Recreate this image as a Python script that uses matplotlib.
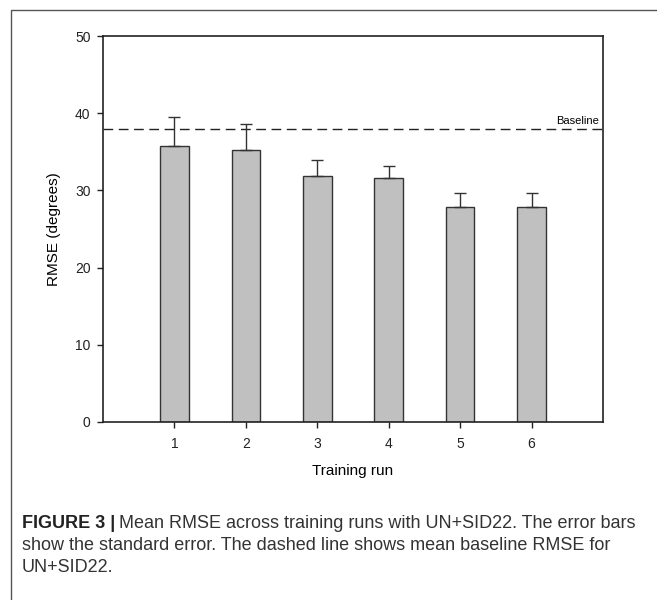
import matplotlib.pyplot as plt
from matplotlib.patches import Rectangle

runs = [1, 2, 3, 4, 5, 6]
rmse = [35.8, 35.2, 31.8, 31.6, 27.8, 27.8]
se = [3.7, 3.4, 2.1, 1.6, 1.9, 1.9]
baseline = 37.9

plt.rcParams['font.family'] = ['Liberation Sans', 'DejaVu Sans']

fig = plt.figure(figsize=(6.57, 6.0), dpi=100)

# frame around the whole figure
fig.patches.append(Rectangle((11 / 657, -0.1), 1.2, 1 - 10 / 600 + 0.1, transform=fig.transFigure,
                             fill=False, edgecolor='#555555', linewidth=1.0))

ax = fig.add_axes([0.1568, 0.2967, 0.761, 0.6433])
ax.bar(runs, rmse, width=0.4, color='#c0c0c0', edgecolor='#333333', linewidth=1.0, zorder=2)
ax.errorbar(runs, rmse, yerr=[[0] * len(se), se], fmt='none', ecolor='#333333',
            elinewidth=1.0, capsize=4, capthick=1.0, zorder=3)
ax.axhline(baseline, color='#222222', linestyle=(0, (7, 4)), linewidth=1.0, zorder=1)
ax.text(6.95, baseline + 0.4, 'Baseline', ha='right', va='bottom', fontsize=8)

ax.set_xlim(0, 7)
ax.set_ylim(0, 50)
ax.set_xticks(runs)
ax.set_yticks([0, 10, 20, 30, 40, 50])
ax.tick_params(direction='out', length=4, width=1.0, labelsize=10, colors='#222222')
ax.tick_params(axis='y', pad=5)
ax.tick_params(axis='x', pad=7)
for s in ax.spines.values():
    s.set_linewidth(1.2)
    s.set_color('#222222')
ax.set_xlabel('Training run', fontsize=11, labelpad=9)
ax.set_ylabel('RMSE (degrees)', fontsize=11, labelpad=10)

# caption
cap_size = 13
t1 = fig.text(22 / 657, 1 - 523 / 600, 'FIGURE 3 |', fontsize=cap_size, va='center', ha='left',
              weight='bold', color='#222222')
fig.canvas.draw()
bb = t1.get_window_extent()
fig.text((bb.x1 + 4) / 657, 1 - 523 / 600,
         'Mean RMSE across training runs with UN+SID22. The error bars',
         fontsize=cap_size, va='center', ha='left', color='#333333')
fig.text(22 / 657, 1 - 546 / 600,
         'show the standard error. The dashed line shows mean baseline RMSE for',
         fontsize=cap_size, va='center', ha='left', color='#333333')
fig.text(22 / 657, 1 - 568 / 600, 'UN+SID22.',
         fontsize=cap_size, va='center', ha='left', color='#333333')

fig.savefig('out.png', dpi=100)
